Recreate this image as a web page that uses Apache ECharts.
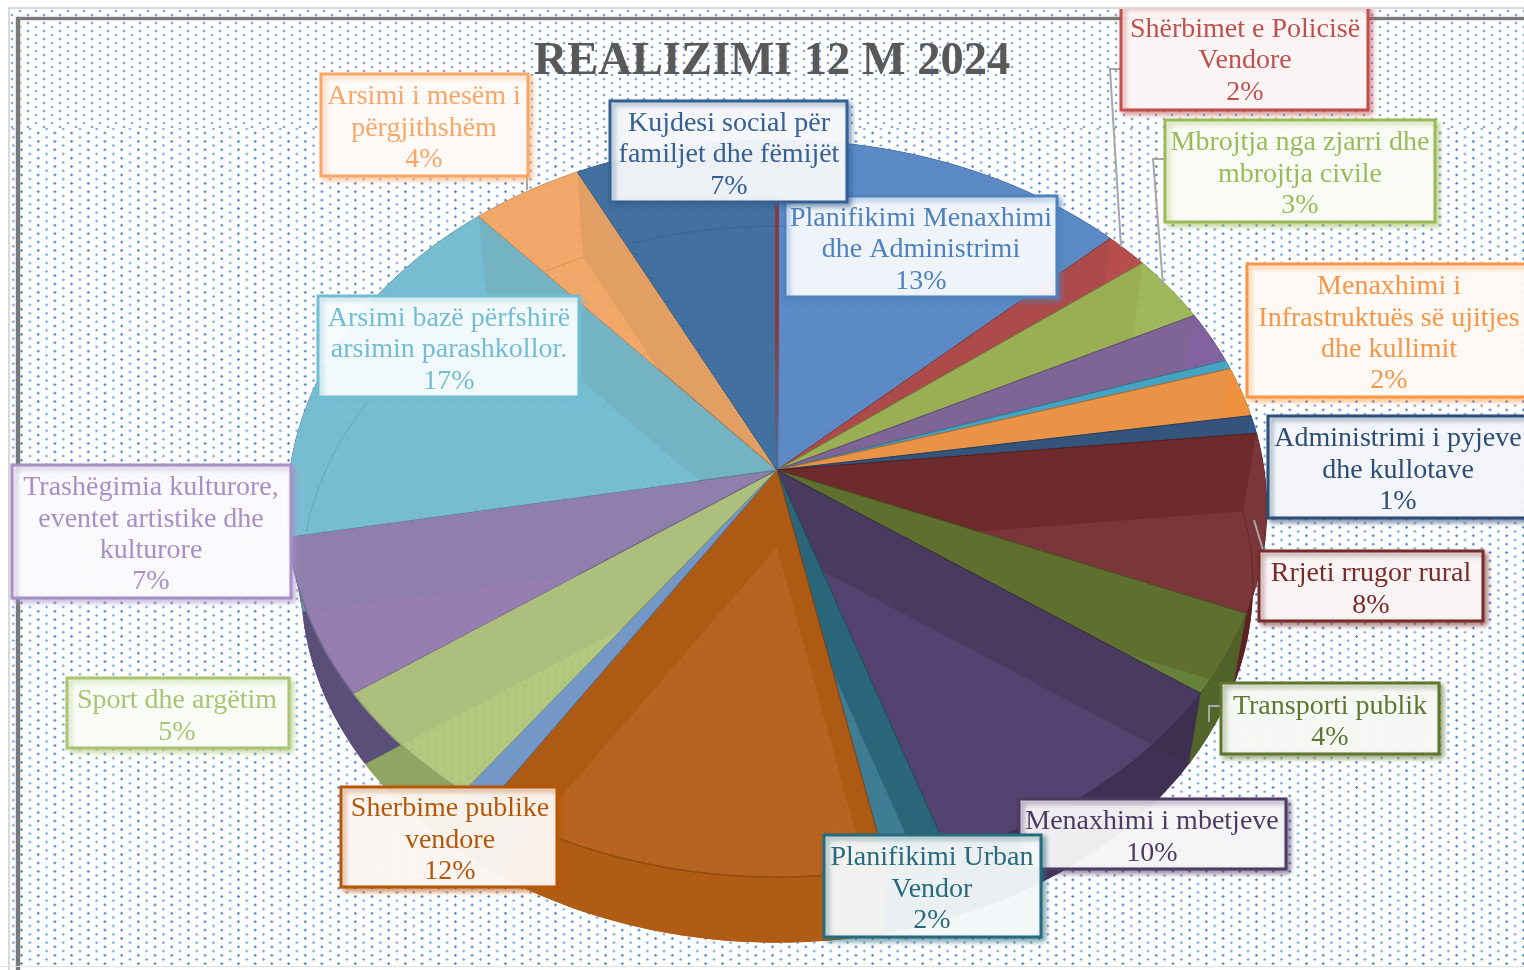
<!DOCTYPE html>
<html>
<head>
<meta charset="utf-8">
<script src="https://cdn.jsdelivr.net/npm/echarts@6/dist/echarts.min.js"></script>
<style>
html,body{margin:0;padding:0;width:1524px;height:970px;overflow:hidden;background:#fff}
.dots{position:absolute;left:9px;right:0}
#d1{top:8px;height:120px;background:
 radial-gradient(circle,#7fa8da 1px,rgba(127,168,218,.25) 1.4px,transparent 1.9px) 3px -1px/16px 8px,
 radial-gradient(circle,#7fa8da 1px,rgba(127,168,218,.25) 1.4px,transparent 1.9px) 11px 3px/16px 8px}
#d2{top:128px;height:838px;background:
 radial-gradient(circle,#4f81c4 1px,rgba(79,129,196,.2) 1.3px,transparent 1.7px) 4.2px 0.8px/16.7px 8.4px,
 radial-gradient(circle,#7fa6d8 1px,rgba(127,166,216,.2) 1.3px,transparent 1.7px) 12.55px 5px/16.7px 8.4px}
.f{position:absolute}
#chart{position:absolute;left:0;top:0;width:1524px;height:970px}
</style>
</head>
<body>
<div class="dots" id="d1"></div>
<div class="dots" id="d2"></div>
<div class="f" style="left:8px;top:7px;width:2px;height:963px;background:#d9d9d9"></div>
<div class="f" style="left:17px;top:17px;width:1507px;height:3px;background:#7a7a7a;box-shadow:0 0 2px #999"></div>
<div class="f" style="left:16px;top:17px;width:4px;height:953px;background:#7a7a7a;box-shadow:0 0 2px #999"></div>
<div class="f" style="left:0;top:966px;width:1524px;height:1px;background:#e4e4e4"></div>
<div id="chart"></div>
<div class="f" style="left:0;top:0;width:1524px;height:7px;background:#fff"></div>
<div class="f" style="left:8px;top:7px;width:1516px;height:2px;background:#d9d9d9"></div>
<script>
const chartTitle = 'REALIZIMI 12 M 2024';
const sliceNames = [
  'Planifikimi Menaxhimi\ndhe Administrimi','Shërbimet e Policisë\nVendore','Mbrojtja nga zjarri dhe\nmbrojtja civile','','',
  'Menaxhimi i\nInfrastruktuës së ujitjes\ndhe kullimit','Administrimi i pyjeve\ndhe kullotave','Rrjeti rrugor rural','Transporti publik',
  'Menaxhimi i mbetjeve','Planifikimi Urban\nVendor','Sherbime publike\nvendore','','Sport dhe argëtim',
  'Trashëgimia kulturore,\neventet artistike dhe\nkulturore','Arsimi bazë përfshirë\narsimin parashkollor.','Arsimi i mesëm i\npërgjithshëm','Kujdesi social për\nfamiljet dhe fëmijët'
];
const sliceValues = [13.1,1.6,3.0,2.3,0.4,2.2,0.8,7.8,3.6,10.1,1.9,12.4,0.9,5.2,6.9,16.4,4.1,7.4];
const percentLabels = ['13%','2%','3%','','','2%','1%','8%','4%','10%','2%','12%','','5%','7%','17%','4%','7%'];

const faceColors = ['#4e7db8','#ad4a4a','#9aae54','#7f6596','#45a3c4','#ea9245','#35547b','#6f2a2c','#5f702e','#4b3a5f','#2a6579','#ac5a14','#7398c8','#acbf7d','#8f7fad','#74b3c3','#e29f63','#3f6a9b'];
const lightColors = ['#5b8ac6','#b84d4d','#9fb85b','#82639f','#46aac9','#f0923d','#2f5a8a','#7a3638','#67813a','#544270','#3e7d94','#b8631f','#7398c8','#b2c87e','#967fb0','#77bdd2','#f3a86a','#42709f'];
const wallColors = ['#3f6595','#8a3b3b','#7d8d44','#66517a','#37839d','#bc7538','#2a4363','#591f21','#4f6128','#3d2f50','#225161','#a85814','#5c7aa0','#8a9d5d','#5a4f78','#5d8f9c','#b57f4f','#32557c'];
const textColors = ['#4f81bd','#c0504d','#9bbb59','','','#f79646','#2c4d75','#772c2a','#5f7530','#4d3b62','#276a7c','#b65708','','#a9c472','#a98fc6','#72bdd2','#f9a666','#366092'];

// label boxes: [x0,y0,x1,y1] in pixels, text centre derived from them
const labelBoxes = [
 [785,196,1057,297],[1121,5,1368,110],[1165,120,1435,222],null,null,[1247,264,1545,397],[1268,416,1530,518],
 [1259,551,1483,621],[1221,683,1439,754],[1019,799,1286,869],[824,835,1041,937],[341,787,557,887],null,[67,678,289,748],
 [12,465,291,598],[318,296,579,397],[321,74,528,176],[610,101,847,202]
];
const labelCenterX = [921,1245,1300,0,0,1389,1398,1371,1330,1152,932,450,0,177,151,449,424,729];
const leaderLines = [
 [[1121,69],[1110,69],[1121,247]],
 [[1165,159],[1153,159],[1163,285]],
 [[1254,520],[1263,550]],
 [[1221,706],[1209,706],[1209,722]],
 [[527,176],[527,190]]
];

// Perspective of the disk
const CX=777, CY=470, B=487, A=364.5, K=0.1045, DEPTH=77, SHRINK=0.972, TEXT_DY=3.5;
const total = sliceValues.reduce((a,b)=>a+b,0);
function topPt(t){const u=Math.sin(t),v=Math.cos(t),d=1+K*v;return [CX+B*u/d,CY-A*v/d];}
function botPt(t){const p=topPt(t);return [CX+(p[0]-CX)*SHRINK,CY+DEPTH+(p[1]-CY)*SHRINK];}
function arc(fn,a,b){const n=Math.max(2,Math.ceil(Math.abs(b-a)/0.015)),r=[];for(let i=0;i<=n;i++)r.push(fn(a+(b-a)*i/n));return r;}
function shade(h,f){const n=parseInt(h.slice(1),16);return 'rgb('+[(n>>16)&255,(n>>8)&255,n&255].map(c=>Math.round(Math.min(255,c*f))).join(',')+')';}
function fade(h,al){const n=parseInt(h.slice(1),16);return 'rgba('+[(n>>16)&255,(n>>8)&255,n&255].join(',')+','+al+')';}
function clipConvex(subject,clip){
  let area=0;for(let i=0;i<clip.length;i++){const a=clip[i],b=clip[(i+1)%clip.length];area+=a[0]*b[1]-b[0]*a[1];}
  const s=area>0?1:-1;let out=subject;
  for(let i=0;i<clip.length&&out.length;i++){
    const a=clip[i],b=clip[(i+1)%clip.length];
    const inside=p=>s*((b[0]-a[0])*(p[1]-a[1])-(b[1]-a[1])*(p[0]-a[0]))>=-1e-6;
    const next=[];
    for(let j=0;j<out.length;j++){
      const p=out[j],q=out[(j+1)%out.length],ip=inside(p),iq=inside(q);
      if(ip)next.push(p);
      if(ip!==iq){
        const d1=(b[0]-a[0])*(p[1]-a[1])-(b[1]-a[1])*(p[0]-a[0]);
        const d2=(b[0]-a[0])*(q[1]-a[1])-(b[1]-a[1])*(q[0]-a[0]);
        const m=d1/(d1-d2);next.push([p[0]+(q[0]-p[0])*m,p[1]+(q[1]-p[1])*m]);
      }
    }
    out=next;
  }
  return out;
}
function inConvex(p,clip){return clipConvex([p,p,p],clip).length>0;}
function angles(i){let s=0;for(let j=0;j<i;j++)s+=sliceValues[j];return [s/total*2*Math.PI,(s+sliceValues[i])/total*2*Math.PI];}

const dotTile=document.createElement('canvas');dotTile.width=16;dotTile.height=8;
(function(){const c=dotTile.getContext('2d');c.fillStyle='rgba(30,50,90,0.08)';
 c.beginPath();c.arc(4,2,1.1,0,7);c.fill();c.beginPath();c.arc(12,6,1.1,0,7);c.fill();})();

const dataRows = sliceValues.map((v,i)=>[v,i]);

function renderBase(params,api){
  const i=api.value(1),[a,b]=angles(i);
  const topArc=arc(topPt,a,b),botArc=arc(botPt,a,b);
  return {type:'group',silent:true,children:[
    {type:'polygon',shape:{points:topArc.concat(botArc.slice().reverse())},style:{fill:wallColors[i]}},
    {type:'polygon',shape:{points:[[CX,CY+DEPTH]].concat(botArc)},style:{fill:i===14?wallColors[i]:shade(wallColors[i],1.05)}}
  ]};
}
function renderFace(params,api){
  const i=api.value(1),[a,b]=angles(i);
  const topArc=arc(topPt,a,b),botArc=arc(botPt,a,b);
  const wedge=[[CX,CY]].concat(topArc);
  const lightShape=[[CX,CY+DEPTH],botArc[0]].concat(topArc,[botArc[botArc.length-1]]);
  const light=clipConvex(lightShape,wedge);
  const kids=[{type:'polygon',shape:{points:wedge},style:{fill:faceColors[i],stroke:shade(faceColors[i],0.75),lineWidth:1}}];
  if(light.length>2){
    kids.push({type:'polygon',shape:{points:light},style:{fill:lightColors[i]}});
    kids.push({type:'polygon',shape:{points:light},style:{fill:{image:dotTile,repeat:'repeat'}}});
  }
  // rear rim seen through the face
  const seen=botArc.filter(p=>inConvex(p,wedge));
  if(seen.length>1)kids.push({type:'polyline',shape:{points:seen},style:{fill:'none',stroke:shade(faceColors[i],0.93),lineWidth:1}});
  // front rim
  const mid=(a+b)/2;
  if(Math.cos(mid)<-0.2)kids.push({type:'polyline',shape:{points:topArc},style:{fill:'none',stroke:shade(faceColors[i],0.85),lineWidth:1.5}});
  return {type:'group',silent:true,children:kids};
}
function renderLabel(params,api){
  const i=api.value(1),box=labelBoxes[i];
  if(!box)return {type:'group',children:[]};
  const col=textColors[i];
  const text=sliceNames[i]+'\n'+percentLabels[i];
  return {type:'group',silent:true,children:[
    {type:'rect',shape:{x:box[0],y:box[1],width:box[2]-box[0],height:box[3]-box[1]},
     style:{fill:'rgba(255,255,255,0.91)',stroke:col,lineWidth:3,shadowBlur:5,shadowOffsetX:3,shadowOffsetY:3,shadowColor:fade(col,0.6)}},
    {type:'text',style:{text:text,x:labelCenterX[i],y:(box[1]+box[3])/2+TEXT_DY,textAlign:'center',textVerticalAlign:'middle',
      fontFamily:'Liberation Serif',fontSize:28,lineHeight:31.4,fill:col}}
  ]};
}
function renderDetails(params,api){
  const i=api.value(0);
  return {type:'polyline',silent:true,shape:{points:leaderLines[i]},style:{fill:'none',stroke:'#a6a6a6',lineWidth:2}};
}
function renderSeam(){
  const top=topPt(0);
  return {type:'polyline',silent:true,shape:{points:[top,[CX,CY]]},style:{fill:'none',lineWidth:4,
    stroke:{type:'linear',x:0,y:0,x2:0,y2:1,global:false,colorStops:[{offset:0,color:'#8a3a3c'},{offset:0.55,color:'#8a3a3c'},{offset:1,color:'rgba(138,58,60,0)'}]}}};
}
const custom=(fn,z,data)=>({type:'custom',coordinateSystem:'none',renderItem:fn,data:data,z:z,silent:true,animation:false,clip:false});

const chart=echarts.init(document.getElementById('chart'),null,{renderer:'canvas'});
chart.setOption({
  backgroundColor:'transparent',
  animation:false,
  title:{text:chartTitle,left:767,textAlign:'center',top:33,textStyle:{fontFamily:'Liberation Serif',fontWeight:'bold',fontSize:46.5,color:'#595959'}},
  tooltip:{show:false},
  series:[
    custom(renderBase,1,dataRows),
    custom(renderFace,2,dataRows),
    custom(renderSeam,3,[[0]]),
    custom(renderDetails,4,leaderLines.map((l,i)=>[i])),
    custom(renderLabel,5,dataRows)
  ]
});
</script>
</body>
</html>
